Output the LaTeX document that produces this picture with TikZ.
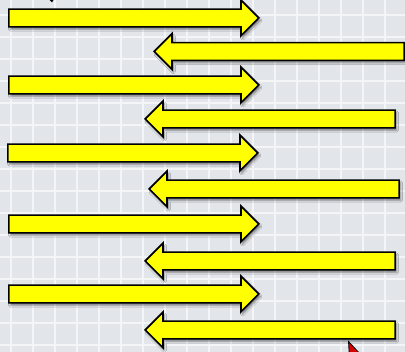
\documentclass[tikz,border=0pt]{standalone}
\usetikzlibrary{shapes.arrows, shadows.blur}

\definecolor{paper}{RGB}{226,229,233}
\definecolor{gridwhite}{RGB}{243,245,247}
\definecolor{arrowyellow}{RGB}{255,255,0}

\begin{document}
\begin{tikzpicture}[
    x=1pt, y=-1pt,
    gridline/.style={draw=gridwhite, line width=1.5pt},
    yarrow/.style={single arrow, draw=black, fill=arrowyellow, line width=1.6pt,
    inner sep=0pt, inner ysep=8.1pt, single arrow head extend=9pt,
    single arrow tip angle=90, minimum height=250pt, anchor=tip,
    blur shadow={shadow xshift=1.5pt, shadow yshift=-2.5pt, shadow blur steps=6,
    shadow opacity=45}},
    rarrow/.style={yarrow},
    larrow/.style={yarrow, shape border rotate=180} ]

    % Background paper with grid
    \fill[paper] (0,0) rectangle (405,352);
    \useasboundingbox (0,0) rectangle (405,352);
    \foreach \gx in {11,33,...,405} \draw[gridline] (\gx,0) -- (\gx,352);
    \foreach \gy in {15,37,...,352} \draw[gridline] (0,\gy) -- (405,\gy);

    % Arrows pointing right
    \node[rarrow] (r1) at (260,18) {};
    \node[rarrow] (r2) at (260,85) {};
    \node[rarrow] (r3) at (259,153) {};
    \node[rarrow] (r4) at (260,224) {};
    \node[rarrow] (r5) at (260,294) {};

    % Arrows pointing left
    \node[larrow] (l1) at (153,51.5) {};
    \node[larrow] (l2) at (144,119) {};
    \node[larrow] (l3) at (148,189) {};
    \node[larrow] (l4) at (144,261) {};
    \node[larrow] (l5) at (144,330) {};

    % Bits cut off by the edges
    \fill[black] (49.5,0) -- (53.5,0) -- (52,2.5) -- cycle;
    \begin{scope}
      \clip (0,0) rectangle (405,352);
      \filldraw[fill=red!85!black, draw=black, line width=0.8pt]
        (348.5,341.5) -- (349.5,358) -- (362,356) -- cycle;
    \end{scope}

  \end{tikzpicture}
\end{document}
